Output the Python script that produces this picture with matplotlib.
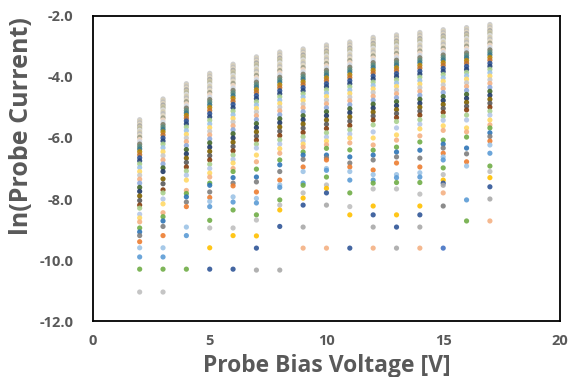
import matplotlib
matplotlib.use("Agg")
import matplotlib.pyplot as plt

# probe bias voltage of every column of points
voltages = [2, 3, 4, 5, 6, 7, 8, 9, 10, 11, 12, 13, 14, 15, 16, 17]

# ln(probe current), one list per voltage, top to bottom
v2 = [-5.40,-5.45,-5.50,-5.55,-5.60,-5.65,-5.70,-5.75,-5.80,-5.86,-5.92,-5.98,-6.05,-6.12,-6.20,-6.28,-6.36,-6.45,-6.55,-6.65,-6.75,-6.85,-6.97,-7.10,-7.22,-7.35,-7.48,-7.62,-7.75,-7.90,-8.05,-8.20,-8.30,-8.50,-8.62,-8.75,-8.95,-9.08,-9.20,-9.40,-9.60,-9.90,-10.30,-11.05]
v3 = [-4.72,-4.77,-4.82,-4.87,-4.92,-4.97,-5.02,-5.08,-5.14,-5.20,-5.27,-5.34,-5.41,-5.48,-5.56,-5.64,-5.72,-5.80,-5.90,-6.00,-6.10,-6.20,-6.32,-6.45,-6.58,-6.72,-6.85,-6.98,-7.10,-7.34,-7.50,-7.70,-7.80,-8.00,-8.16,-8.45,-8.58,-8.72,-8.90,-9.20,-9.60,-9.90,-10.30,-11.05]
v4 = [-4.22,-4.27,-4.32,-4.37,-4.42,-4.47,-4.52,-4.57,-4.63,-4.69,-4.75,-4.81,-4.88,-4.95,-5.02,-5.10,-5.18,-5.26,-5.35,-5.44,-5.54,-5.64,-5.76,-5.88,-6.00,-6.12,-6.25,-6.38,-6.52,-6.66,-6.80,-6.95,-7.08,-7.22,-7.38,-7.72,-7.82,-7.93,-8.10,-8.25,-8.92,-9.20,-10.30]
v5 = [-3.88,-3.93,-3.98,-4.03,-4.08,-4.13,-4.19,-4.25,-4.31,-4.37,-4.44,-4.51,-4.58,-4.66,-4.74,-4.82,-4.91,-5.00,-5.10,-5.20,-5.31,-5.42,-5.54,-5.66,-5.78,-5.90,-6.03,-6.16,-6.30,-6.44,-6.58,-6.72,-6.86,-7.00,-7.15,-7.28,-7.48,-7.55,-7.77,-7.95,-8.08,-8.25,-8.70,-8.95,-9.60,-10.30]
v6 = [-3.58,-3.63,-3.68,-3.73,-3.78,-3.83,-3.89,-3.95,-4.01,-4.07,-4.14,-4.21,-4.28,-4.36,-4.44,-4.52,-4.61,-4.70,-4.80,-4.90,-5.01,-5.12,-5.24,-5.36,-5.48,-5.60,-5.73,-5.86,-6.00,-6.14,-6.28,-6.42,-6.56,-6.70,-6.82,-7.00,-7.10,-7.30,-7.48,-7.57,-7.93,-8.10,-8.36,-8.95,-9.20,-10.30]
v7 = [-3.34,-3.39,-3.44,-3.49,-3.54,-3.59,-3.64,-3.70,-3.76,-3.82,-3.88,-3.95,-4.02,-4.09,-4.17,-4.25,-4.33,-4.42,-4.51,-4.61,-4.71,-4.81,-4.92,-5.03,-5.15,-5.27,-5.40,-5.53,-5.66,-5.80,-5.94,-6.07,-6.20,-6.33,-6.56,-6.78,-7.02,-7.28,-7.44,-7.77,-7.98,-8.13,-8.52,-8.69,-9.21,-9.61,-10.33]
v8 = [-3.18,-3.23,-3.28,-3.33,-3.38,-3.43,-3.48,-3.54,-3.60,-3.66,-3.72,-3.79,-3.86,-3.93,-4.01,-4.09,-4.17,-4.26,-4.35,-4.45,-4.55,-4.65,-4.76,-4.87,-4.99,-5.11,-5.24,-5.37,-5.50,-5.64,-5.78,-5.92,-6.06,-6.20,-6.35,-6.50,-6.72,-6.88,-7.10,-7.38,-7.54,-7.62,-8.03,-8.20,-8.36,-8.90,-10.33]
v9 = [-3.08,-3.13,-3.18,-3.23,-3.28,-3.33,-3.38,-3.44,-3.50,-3.56,-3.62,-3.69,-3.76,-3.83,-3.91,-3.99,-4.07,-4.16,-4.25,-4.35,-4.45,-4.55,-4.66,-4.77,-4.89,-5.01,-5.14,-5.27,-5.40,-5.54,-5.68,-5.82,-5.96,-6.10,-6.20,-6.30,-6.46,-6.56,-6.70,-6.95,-7.10,-7.48,-7.55,-7.80,-7.97,-8.20,-8.92,-9.61]
v10 = [-2.95,-3.00,-3.05,-3.10,-3.15,-3.20,-3.25,-3.31,-3.37,-3.43,-3.49,-3.56,-3.63,-3.70,-3.78,-3.86,-3.94,-4.03,-4.12,-4.22,-4.32,-4.42,-4.53,-4.64,-4.76,-4.88,-5.01,-5.14,-5.27,-5.41,-5.55,-5.69,-5.83,-5.97,-6.10,-6.22,-6.34,-6.56,-6.65,-6.72,-7.00,-7.06,-7.28,-7.54,-7.65,-7.80,-8.20,-9.61]
v11 = [-2.85,-2.90,-2.95,-3.00,-3.05,-3.10,-3.15,-3.21,-3.27,-3.33,-3.39,-3.46,-3.53,-3.60,-3.68,-3.76,-3.84,-3.93,-4.02,-4.12,-4.22,-4.32,-4.43,-4.54,-4.66,-4.78,-4.91,-5.04,-5.17,-5.31,-5.45,-5.59,-5.73,-5.87,-6.00,-6.16,-6.39,-6.62,-6.82,-6.95,-7.10,-7.38,-7.80,-8.25,-8.52,-9.61]
v12 = [-2.70,-2.75,-2.80,-2.85,-2.90,-2.95,-3.00,-3.06,-3.12,-3.18,-3.24,-3.31,-3.38,-3.45,-3.53,-3.61,-3.69,-3.78,-3.87,-3.97,-4.07,-4.17,-4.28,-4.39,-4.51,-4.63,-4.76,-4.89,-5.02,-5.15,-5.28,-5.41,-5.57,-5.80,-6.00,-6.23,-6.40,-6.56,-6.72,-7.05,-7.20,-7.38,-7.48,-7.67,-8.23,-8.52,-8.92,-9.61]
v13 = [-2.62,-2.67,-2.72,-2.77,-2.82,-2.87,-2.92,-2.98,-3.04,-3.10,-3.16,-3.23,-3.30,-3.37,-3.45,-3.53,-3.61,-3.70,-3.79,-3.89,-3.99,-4.09,-4.20,-4.31,-4.43,-4.55,-4.68,-4.81,-4.94,-5.07,-5.20,-5.33,-5.46,-5.67,-5.90,-6.07,-6.30,-6.46,-6.62,-6.82,-7.20,-7.30,-7.46,-7.67,-8.52,-8.92,-9.61]
v14 = [-2.54,-2.59,-2.64,-2.69,-2.74,-2.79,-2.84,-2.90,-2.96,-3.02,-3.08,-3.15,-3.22,-3.29,-3.37,-3.45,-3.53,-3.62,-3.71,-3.81,-3.91,-4.01,-4.12,-4.23,-4.35,-4.47,-4.60,-4.73,-4.86,-4.99,-5.12,-5.25,-5.40,-5.55,-5.70,-5.93,-6.13,-6.40,-6.66,-6.95,-7.14,-7.28,-7.46,-7.84,-8.23,-8.52,-8.92,-9.61]
v15 = [-2.45,-2.50,-2.55,-2.60,-2.65,-2.70,-2.75,-2.81,-2.87,-2.93,-2.99,-3.06,-3.13,-3.20,-3.28,-3.36,-3.44,-3.53,-3.62,-3.72,-3.82,-3.92,-4.03,-4.14,-4.26,-4.38,-4.51,-4.64,-4.77,-4.90,-5.03,-5.16,-5.29,-5.42,-5.60,-5.75,-6.07,-6.20,-6.33,-6.50,-6.62,-6.72,-6.98,-7.20,-7.38,-7.48,-7.55,-7.80,-8.23,-9.61]
v16 = [-2.38,-2.43,-2.48,-2.53,-2.58,-2.63,-2.68,-2.74,-2.80,-2.86,-2.92,-2.99,-3.06,-3.13,-3.21,-3.29,-3.37,-3.46,-3.55,-3.65,-3.75,-3.85,-3.96,-4.07,-4.19,-4.31,-4.44,-4.57,-4.70,-4.83,-4.96,-5.08,-5.25,-5.41,-5.67,-5.80,-5.97,-6.33,-6.52,-6.78,-6.92,-8.03,-8.72]
v17 = [-2.28,-2.33,-2.38,-2.43,-2.48,-2.53,-2.58,-2.64,-2.70,-2.76,-2.82,-2.89,-2.96,-3.03,-3.11,-3.19,-3.27,-3.36,-3.45,-3.55,-3.65,-3.75,-3.86,-3.97,-4.09,-4.21,-4.34,-4.47,-4.60,-4.73,-4.86,-4.99,-5.12,-5.25,-5.41,-5.57,-5.67,-5.83,-5.95,-6.10,-6.23,-6.50,-6.92,-7.10,-7.30,-7.60,-8.00,-8.72]

columns = [v2, v3, v4, v5, v6, v7, v8, v9, v10, v11, v12, v13, v14, v15, v16, v17]

# excel-like colours, in the order they show from the top of a column
colors = ['#C9C9C9', '#D9D0B8', '#BFBFBF', '#E2D7BE', '#A9A9A9', '#CFC7A8',
          '#B8B8A0', '#DCDCDC', '#D6CDB0', '#BDBDBD', '#E4DAC4', '#9E9E88',
          '#F2D9C4', '#D0D8E4', '#7F7F6A', '#5E8C7E', '#3C7A89', '#B8860B',
          '#C0712E', '#2F5597', '#264478', '#A9D18E', '#9DC3E6', '#FFD966',
          '#C9C9C9', '#F4B183', '#8FAADC', '#43682B', '#1F3864', '#7F6000',
          '#595959', '#843C0C', '#A9D18E', '#B4C7E7', '#FFD966', '#F4B183',
          '#70AD47', '#2E75B6', '#7F7F7F', '#ED7D31', '#9DC3E6', '#5B9BD5',
          '#70AD47', '#BFBFBF', '#FFC000', '#2F5597', '#A9A9A9', '#F4B183',
          '#7F7F7F', '#4472C4']

fig = plt.figure(figsize=(5.69, 3.77), dpi=100)
ax = fig.add_axes([0.1634, 0.1485, 0.8207, 0.8091])

for v, col in zip(voltages, columns):
    cs = [colors[i % len(colors)] for i in range(len(col))]
    ax.scatter([v] * len(col), col, s=14, c=cs, linewidths=0, alpha=0.9, zorder=3)

ax.set_xlim(0, 20)
ax.set_ylim(-12, -2)
ax.set_xticks([0, 5, 10, 15, 20])
ax.set_yticks([-12, -10, -8, -6, -4, -2])
ax.set_yticklabels(['-12.0', '-10.0', '-8.0', '-6.0', '-4.0', '-2.0'])

grey = '#595959'
ax.tick_params(length=0, labelsize=10.5, labelcolor=grey)
ax.tick_params(axis='y', pad=14)
ax.tick_params(axis='x', pad=9)
for lab in ax.get_xticklabels() + ax.get_yticklabels():
    lab.set_fontweight('bold')
    lab.set_fontfamily('Open Sans')

for sp in ax.spines.values():
    sp.set_color('black')
    sp.set_linewidth(1.3)

ax.set_xlabel('Probe Bias Voltage [V]', fontsize=16.5, fontweight='bold',
              color=grey, fontfamily='Open Sans')
ax.set_ylabel('ln(Probe Current)', fontsize=18, fontweight='bold',
              color=grey, fontfamily='Open Sans')
ax.xaxis.set_label_coords(0.5, -0.148)
ax.yaxis.set_label_coords(-0.152, 0.64)
ax.xaxis.label.set_va('center')
ax.yaxis.label.set_va('center')

fig.savefig('out.png', dpi=100)
